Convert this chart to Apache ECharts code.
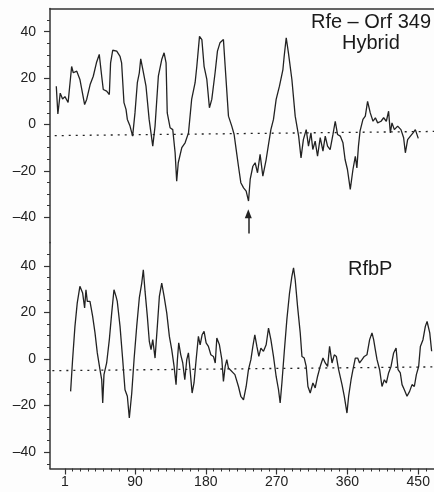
<!DOCTYPE html>
<html>
<head>
<meta charset="utf-8">
<script src="https://cdn.jsdelivr.net/npm/echarts@6/dist/echarts.min.js"></script>
<style>
html,body{margin:0;padding:0;background:#fdfdfd;}
#c{width:434px;height:492px;}
</style>
</head>
<body>
<div id="c"></div>
<script>
// ---- data ----
const hybridResidue = [-10,-8,-5,-2,1,5,7,9.5,11.6,16,20,26,28.6,33,37,41,44.6,47.7,49.7,54,57.4,59,61.7,66.8,71,73,76,78.6,80.3,83.7,87,90,93,95.5,97.3,100,104,108,112.6,115.5,119.7,124,127,129.5,131,134.6,138,141,143,145,149.5,153.7,158,162,166.4,168.6,172,175,177.8,181.3,184.6,187.6,191.8,194.8,198,202.4,204.6,208.8,213,216,218.6,221.5,224.5,228,231.3,234.3,236.4,239.8,242.7,245.7,249,252.5,256.7,259.7,262.7,266,269.4,273.6,278,279.6,282.2,285,289.4,293.6,298,301,304,307.6,310.5,313.6,316,319,322,325.4,328.9,331.8,334.7,338,341.6,344.5,347.4,350.9,354.3,357,360,363.6,367,370,372,374,376,379.7,382.7,385.6,389,392.5,395.5,398.4,402.7,406,409.4,412.3,414.5,416.6,419.6,423.8,428,431.4,433.6,436.5,440,443.4,446.3,450];
const hybridScore = [16.5,4.5,13.5,11,12,9.5,10,25,22.3,23,19.4,8.6,10.8,17.2,20.8,26.6,30.2,20.8,15.1,14.4,12.9,26.6,32,31.6,29.4,26.6,9.4,6.5,2.2,-0.7,-5,5,18,22.3,28.3,23.7,16.5,2.2,-9.3,-0.7,20.8,28,30.9,26.6,5,-1.4,-2.2,-12.2,-24.4,-16.5,-10,-7.9,-3.6,10.8,18,25.1,38,36.6,25.1,19.4,7.2,10.8,22.3,31.6,35.2,36.6,25.1,3.6,-0.7,-4.3,-10.8,-18,-25.1,-27.3,-28.7,-33,-23.7,-18,-16.5,-20.8,-12.9,-22.3,-15.1,-8.6,-2.2,2.2,10.8,16.5,23.7,29.4,37.4,30.9,19.4,3.6,-5,-14.4,-6.5,-2.2,-9.3,-3.6,-10.8,-7.2,-13.7,-5.7,-11.5,-5,-9.3,-10.8,-4.3,1.4,-4.3,-5,-7.9,-15.1,-19.4,-28,-19.4,-13.7,-18.7,-9.3,-2.9,2.2,3.6,10,5,1.4,2.9,0.7,1.4,2.9,1.4,5.7,-3.6,0.7,-2.2,-0.7,-2.2,-5.7,-12.2,-6.5,-5,-3.6,-2.2,-6];

const rfbpResidue = [8.2,10.7,13.7,16.6,20,23.5,26,27.7,29.4,32.8,36.2,39.2,42.1,45.5,47.7,49,50.6,54,57.4,60.4,63.3,65.9,67.5,71,74.4,77.3,80.3,82.8,85.9,88.8,92.2,95.5,98.6,100.6,102.8,105.7,108.2,110.4,112.6,115.5,118.4,121,124,127,130.4,133.7,136.7,139.7,142.2,143.9,145.6,148.2,150.7,153.3,155.8,157.9,160,162.6,165,167.7,170.6,172.8,175.3,177.8,180.4,183.3,186.4,189.7,192,194,197.3,200.4,202.4,204.6,206.7,208.8,211,217,221.5,224.5,227.9,231.3,234.2,237.3,239.8,242.3,244.9,247.4,250,253.3,256.7,259.7,262.7,266,269.4,272.4,274.5,276.7,279.6,283,286.4,289.4,291.5,293.6,296.6,300,302.2,305.1,307.6,309.8,312.7,316.1,319,322,325.4,328.9,331.8,334.8,337.3,340.4,343.3,345.9,348.8,353.1,356,359.4,361.5,364.6,367,370,373,375.4,378.5,381.4,384.8,388.2,391.2,393.3,395.4,397.6,400.9,403.9,406.9,409.4,412.3,415.4,418.7,421.8,424.3,427.2,429.4,432.3,435.7,439,442.1,445,447.6,450.5,452.7,456,459,461.2,464.6,467];
const rfbpScore = [-13.9,-0.3,14,24,31.2,28.3,21.9,29.7,24.7,24.7,18.3,11.2,2.6,-4.6,-8.9,-18.9,-6.7,-1.7,8.3,19.7,29.7,26.9,24.7,14,-0.3,-13.2,-16,-25.3,-14.6,-0.3,14,26.2,32.6,38.3,29,18.3,7.6,4,8.3,0.4,14,26.9,32.6,26.9,19.7,9.7,4,-3.2,-11,-0.3,6.9,1.8,-1.7,-8.9,-0.3,2.6,-4.6,-14.6,-10.3,-0.3,9.7,6.1,10.4,11.9,6.9,5.4,1.8,1.1,-1.7,9,6.1,-0.3,-9.6,-3.2,-0.3,-3.9,-4.6,-6.7,-11.8,-16,-17.5,-11.8,-4.6,-0.3,5.4,10.4,5.4,1.1,4.7,3.3,6.1,13.3,8.3,1.1,-7.5,-13.2,-18.9,-10.3,2.6,16.9,28.3,35.5,39.1,34,22.6,11.2,1.1,0.4,-3.2,-11.8,-14.6,-10.3,-12.4,-7.5,-3.2,0.4,-1.7,-3.2,5.4,-1.7,1.8,1.1,-4.6,-11,-16,-23.2,-16,-8.9,-4.6,0.4,0.4,-1.7,-0.3,1.1,1.8,8.3,11.2,8.3,4,-0.3,-4.6,-11.8,-8.9,-10.3,-6,-3.2,2.6,4.7,-4.6,-6,-11,-13.2,-16,-13.9,-11,-11.8,-6.7,-3.2,5.4,8.3,14,16.1,11.2,3.3];

const hybridCutoffX = [-12, 470], hybridCutoffY = [-4.8, -3.0];
const rfbpCutoffX = [-15, 470], rfbpCutoffY = [-5.0, -3.4];
const arrowResidue = 234, arrowFrom = -47, arrowTo = -38.5;

const xLabelValues = [1, 90, 180, 270, 360, 450];
const yLabelValues = [-40, -20, 0, 20, 40];

// ---- build ----
const pairs = (xs, ys) => xs.map((x, i) => [x, ys[i]]);
const xMinorTicks = [];
for (let v = 10; v <= 470; v += 10) if (v % 90 !== 0) xMinorTicks.push(v);
const upMinor = [], lowMinor = [];
for (let v = -40; v <= 45; v += 5) upMinor.push(v);
for (let v = -45; v <= 45; v += 5) lowMinor.push(v);

const ink = '#222';
const axisCol = '#333';
const fmt = v => v < 0 ? '\u2013' + Math.abs(v) : String(v);
const font = 'Liberation Sans, Arial, Helvetica, sans-serif';

function yMajor(grid, min, max) {
  return {type:'value', gridIndex:grid, min:min, max:max, position:'left',
    axisLine:{show:true, onZero:false, lineStyle:{color:axisCol, width:1.5}},
    axisTick:{show:true, inside:false, length:6, customValues:yLabelValues, lineStyle:{color:axisCol, width:1.2}},
    axisLabel:{show:true, customValues:yLabelValues, formatter:fmt, margin:14, fontSize:14, color:'#222', fontFamily:font},
    splitLine:{show:false}};
}
function yMinor(grid, min, max, ticks) {
  return {type:'value', gridIndex:grid, min:min, max:max, position:'left',
    axisLine:{show:false, onZero:false},
    axisTick:{show:true, inside:false, length:3, customValues:ticks, lineStyle:{color:axisCol, width:1}},
    axisLabel:{show:false}, splitLine:{show:false}};
}

const option = {
  animation:false,
  backgroundColor:'#fdfdfd',
  grid:[
    {left:50, right:0, top:8.5, height:234.3},
    {left:50, right:0, top:242.5, height:226}
  ],
  xAxis:[
    {type:'value', gridIndex:0, min:-18, max:470, position:'top',
      axisLine:{show:true, onZero:false, lineStyle:{color:axisCol, width:1.5}},
      axisTick:{show:false}, axisLabel:{show:false}, splitLine:{show:false}},
    {type:'value', gridIndex:1, min:-18, max:470, position:'bottom',
      axisLine:{show:true, onZero:false, lineStyle:{color:axisCol, width:1.5}},
      axisTick:{show:true, length:6, customValues:xLabelValues, lineStyle:{color:axisCol, width:1.2}},
      axisLabel:{show:true, customValues:xLabelValues, margin:7, fontSize:14, color:'#222', fontFamily:font},
      splitLine:{show:false}},
    {type:'value', gridIndex:1, min:-18, max:470, position:'bottom', offset:0,
      axisLine:{show:false, onZero:false},
      axisTick:{show:true, length:3, customValues:xMinorTicks, lineStyle:{color:axisCol, width:1}},
      axisLabel:{show:false}, splitLine:{show:false}}
  ],
  yAxis:[
    yMajor(0, -51, 50), yMinor(0, -51, 50, upMinor),
    yMajor(1, -47, 50), yMinor(1, -47, 50, lowMinor)
  ],
  series:[
    {type:'line', xAxisIndex:0, yAxisIndex:0, data:pairs(hybridResidue, hybridScore),
      showSymbol:false, lineStyle:{color:ink, width:1.3}, z:3,
      markLine:{silent:true, symbol:['none','triangle'], symbolSize:[7,9], label:{show:false},
        lineStyle:{color:ink, width:1.5, type:'solid'},
        data:[[{coord:[arrowResidue, arrowFrom]},{coord:[arrowResidue, arrowTo]}]]}},
    {type:'line', xAxisIndex:0, yAxisIndex:0, data:pairs(hybridCutoffX, hybridCutoffY),
      showSymbol:false, lineStyle:{color:ink, width:1.3, type:[2,5]}, z:2},
    {type:'line', xAxisIndex:1, yAxisIndex:2, data:pairs(rfbpResidue, rfbpScore),
      showSymbol:false, lineStyle:{color:ink, width:1.3}, z:3},
    {type:'line', xAxisIndex:1, yAxisIndex:2, data:pairs(rfbpCutoffX, rfbpCutoffY),
      showSymbol:false, lineStyle:{color:ink, width:1.3, type:[2,5]}, z:2}
  ],
  graphic:[
    {type:'text', right:3, top:12, style:{text:'Rfe \u2013 Orf 349', fontSize:20, fill:'#1a1a1a', fontFamily:font}},
    {type:'text', left:342, top:33, style:{text:'Hybrid', fontSize:20, fill:'#1a1a1a', fontFamily:font}},
    {type:'text', left:348, top:259, style:{text:'RfbP', fontSize:20, fill:'#1a1a1a', fontFamily:font}}
  ]
};
const chart = echarts.init(document.getElementById('c'), null, {renderer:'canvas'});
chart.setOption(option);
</script>
</body>
</html>
